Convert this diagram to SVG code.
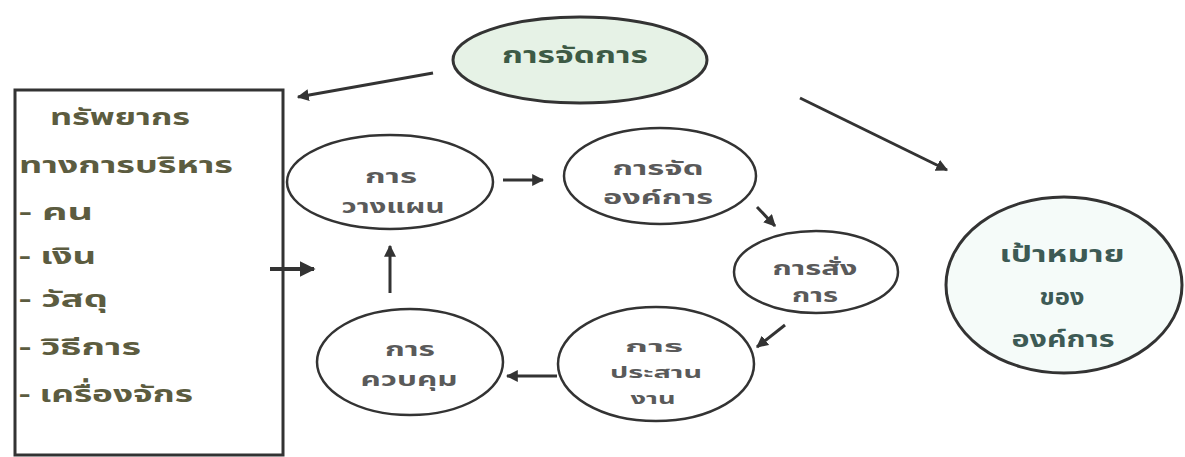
<svg xmlns="http://www.w3.org/2000/svg" width="1185" height="457" viewBox="0 0 1185 457">
<defs>
<marker id="ah" viewBox="0 0 10 10" refX="9" refY="5" markerWidth="4" markerHeight="4" orient="auto" markerUnits="strokeWidth">
<path d="M0,0 L10,5 L0,10 z" fill="#333"/>
</marker>
</defs>
<style>
.node{fill:#fff;stroke:#333;stroke-width:2.5}
.t{font-family:"Noto Sans Thai","Noto Sans","DejaVu Sans",sans-serif;font-weight:bold;text-anchor:middle;fill:#5a5a5a;font-size:19px}
.bx{font-family:"Noto Sans Thai","Noto Sans","DejaVu Sans",sans-serif;font-weight:bold;fill:#5c5c40;font-size:23px}
.big{font-size:23px}
.sm{font-size:16px}
.c{stroke:#333;stroke-width:3;fill:none;marker-end:url(#ah)}
</style>
<rect width="1185" height="457" fill="#fff"/>
<g id="resources">
<rect x="15" y="90" width="268" height="365" fill="#fff" stroke="#333" stroke-width="3"/>
<text class="bx" x="50" y="125" textLength="140" lengthAdjust="spacingAndGlyphs">ทรัพยากร</text>
<text class="bx" x="19" y="173" textLength="214" lengthAdjust="spacingAndGlyphs">ทางการบริหาร</text>
<text class="bx" x="19" y="220" textLength="74" lengthAdjust="spacingAndGlyphs">- คน</text>
<text class="bx" x="19" y="264" textLength="77" lengthAdjust="spacingAndGlyphs">- เงิน</text>
<text class="bx" x="19" y="307" textLength="89" lengthAdjust="spacingAndGlyphs">- วัสดุ</text>
<text class="bx" x="19" y="355" textLength="122" lengthAdjust="spacingAndGlyphs">- วิธีการ</text>
<text class="bx" x="19" y="402" textLength="174" lengthAdjust="spacingAndGlyphs">- เครื่องจักร</text>
</g>
<g id="management">
<ellipse cx="580" cy="60" rx="127" ry="43" fill="#e6f2e6" stroke="#333" stroke-width="3"/>
<text class="t big" x="575" y="63" textLength="146" lengthAdjust="spacingAndGlyphs" style="fill:#3d5a45">การจัดการ</text>
</g>
<g id="planning">
<ellipse class="node" cx="390" cy="182" rx="103" ry="47"/>
<text class="t" x="391" y="183" textLength="52" lengthAdjust="spacingAndGlyphs">การ</text>
<text class="t" x="393" y="213" textLength="103" lengthAdjust="spacingAndGlyphs">วางแผน</text>
</g>
<g id="organizing">
<ellipse class="node" cx="660" cy="176" rx="96" ry="48"/>
<text class="t" x="658" y="175" textLength="91" lengthAdjust="spacingAndGlyphs">การจัด</text>
<text class="t" x="658" y="204" textLength="110" lengthAdjust="spacingAndGlyphs">องค์การ</text>
</g>
<g id="directing">
<ellipse class="node" cx="816" cy="272" rx="82" ry="41"/>
<text class="t" x="815" y="275" textLength="85" lengthAdjust="spacingAndGlyphs">การสั่ง</text>
<text class="t" x="815" y="302" textLength="46" lengthAdjust="spacingAndGlyphs">การ</text>
</g>
<g id="coordinating">
<ellipse class="node" cx="656" cy="364" rx="98" ry="57"/>
<text class="t sm" x="654" y="352" textLength="58" lengthAdjust="spacingAndGlyphs">การ</text>
<text class="t sm" x="656" y="378" textLength="92" lengthAdjust="spacingAndGlyphs">ประสาน</text>
<text class="t sm" x="653" y="404" textLength="45" lengthAdjust="spacingAndGlyphs">งาน</text>
</g>
<g id="controlling">
<ellipse class="node" cx="410" cy="362" rx="93" ry="53"/>
<text class="t" x="410" y="356" textLength="50" lengthAdjust="spacingAndGlyphs">การ</text>
<text class="t" x="409" y="386" textLength="97" lengthAdjust="spacingAndGlyphs">ควบคุม</text>
</g>
<g id="goal">
<ellipse cx="1064" cy="285" rx="118" ry="88" fill="#f5fbf9" stroke="#333" stroke-width="3"/>
<text class="t big" x="1062" y="262" textLength="125" lengthAdjust="spacingAndGlyphs" style="fill:#3d5a55">เป้าหมาย</text>
<text class="t big" x="1062" y="305" textLength="45" lengthAdjust="spacingAndGlyphs" style="fill:#3d5a55">ของ</text>
<text class="t big" x="1063" y="347" textLength="103" lengthAdjust="spacingAndGlyphs" style="fill:#3d5a55">องค์การ</text>
</g>
<g id="connectors">
<line class="c" x1="433" y1="73" x2="298" y2="97"/>
<line class="c" x1="800" y1="98" x2="947" y2="170"/>
<line class="c" x1="503" y1="180" x2="543" y2="180"/>
<line class="c" x1="757" y1="207" x2="775" y2="226"/>
<line class="c" x1="785" y1="325" x2="757" y2="347"/>
<line class="c" x1="557" y1="376" x2="507" y2="376"/>
<line class="c" x1="390" y1="293" x2="390" y2="246"/>
<line class="c" x1="270" y1="269" x2="314" y2="269" style="stroke-width:4"/>
</g>
</svg>
